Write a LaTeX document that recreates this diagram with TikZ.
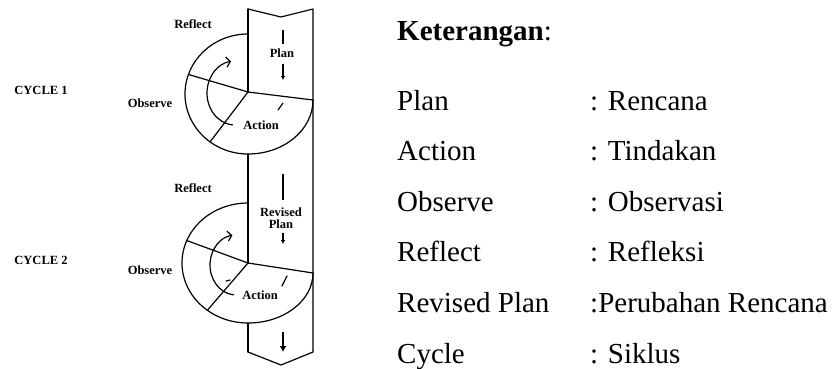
\documentclass[tikz,border=0pt]{standalone}
\usepackage{fontspec}
\setmainfont{Liberation Serif}
\usetikzlibrary{arrows.meta,calc}
\begin{document}
\begin{tikzpicture}[x=1bp,y=-1bp,line join=round,line cap=round,
  edge/.style={line width=1.2bp},
  heavy/.style={line width=2.2bp,line cap=butt},
  cyc/.style={line width=1.2bp,-{Straight Barb[length=4bp,width=10bp]}},
  small/.style={line width=1.3bp,line cap=butt,-{Latex[length=4bp,width=4.5bp]}},
  lbl/.style={font=\fontsize{12.5bp}{12.5bp}\selectfont\bfseries,inner sep=0pt},
  legend/.style={font=\fontsize{29bp}{32bp}\selectfont,inner sep=0pt,anchor=base west}]
\useasboundingbox (0,0) rectangle (833,368);

% ---- the vertical band with notched top and pointed bottom ----
\coordinate (tl) at (248,9);
\coordinate (tn) at (281,17);
\coordinate (tr) at (313,9);
\coordinate (bl) at (248,352);
\coordinate (bt) at (281,365);
\coordinate (br) at (313,352);
\draw[edge] (tl) -- (tn) -- (tr) -- (br) -- (bt) -- (bl);

% ---- cycle 1 ----
\coordinate (c1) at (248,94);
\coordinate (j1) at (248,92);
\coordinate (c1top) at (248,34);
\coordinate (c1bot) at (248,154);
\coordinate (c1r) at (313,100);
\draw[edge] (c1top) arc[start angle=270,end angle=90,x radius=63,y radius=60]
                    arc[start angle=90,end angle=0,x radius=65,y radius=54];
\draw[edge] (tl) -- (j1);
\draw[edge] (j1) -- ($(c1)+(199:63 and 60)$);
\draw[edge] (j1) -- ($(c1)+(127:63 and 60)$);
\draw[edge] (j1) -- (c1r);
\coordinate (a1) at (235,93);
\draw[cyc] ($(a1)+(95:28 and 32)$) arc[start angle=95,end angle=262,x radius=28,y radius=32];
\draw[edge] (278,110) -- (283,103);

\draw[heavy] (283,30) -- (283,44);
\node[lbl] (plan1) at (282,53) {Plan};
\coordinate (p1s) at (283,64);
\coordinate (p1e) at (283,80);
\draw[small] (p1s) -- (p1e);
\node[lbl] (refl1) at (193,24) {Reflect};
\node[lbl] (obs1) at (150,103) {Observe};
\node[lbl] (act1) at (261,125) {Action};
\node[lbl] (cyc1) at (41,90) {CYCLE 1};

% ---- cycle 2 ----
\coordinate (c2) at (248,263);
\coordinate (j2) at (248,263);
\coordinate (c2top) at (248,203);
\coordinate (c2bot) at (248,323);
\coordinate (c2r) at (313,273);
\draw[edge] (c2top) arc[start angle=270,end angle=90,x radius=66,y radius=60]
                    arc[start angle=90,end angle=0,x radius=65,y radius=50];
\draw[edge] (c1bot) -- (j2);
\draw[edge] (c2bot) -- (bl);
\draw[edge] (j2) -- ($(c2)+(202:66 and 60)$);
\draw[edge] (j2) -- ($(c2)+(128:66 and 60)$);
\draw[edge] (j2) -- (c2r);
\coordinate (a2) at (236,265);
\draw[cyc] ($(a2)+(95:26 and 30)$) arc[start angle=95,end angle=262,x radius=26,y radius=30];
\draw[edge] (282,286) -- (287,276);
\draw[edge] (226,281) -- (230,280);

\draw[heavy] (283,174) -- (283,200);
\node[lbl,align=center] (plan2) at (281,218) {Revised\\Plan};
\coordinate (p2s) at (283,233);
\coordinate (p2e) at (283,244);
\draw[small] (p2s) -- (p2e);
\coordinate (p3s) at (283,332);
\coordinate (p3e) at (283,352);
\draw[heavy,-{Latex[length=6bp,width=7bp]}] (p3s) -- (p3e);
\node[lbl] (refl2) at (193,188) {Reflect};
\node[lbl] (obs2) at (150,270) {Observe};
\node[lbl] (act2) at (260,295) {Action};
\node[lbl] (cyc2) at (41,260) {CYCLE 2};

% ---- legend ----
\node[legend] (kt) at (397,40) {\textbf{Keterangan}:};
\node[legend] (k1) at (397,110) {Plan};
\node[legend] (v1) at (590,110) {: Rencana};
\node[legend] (k2) at (397,160.6) {Action};
\node[legend] (v2) at (590,160.6) {: Tindakan};
\node[legend] (k3) at (397,211.2) {Observe};
\node[legend] (v3) at (590,211.2) {: Observasi};
\node[legend] (k4) at (397,261.8) {Reflect};
\node[legend] (v4) at (590,261.8) {: Refleksi};
\node[legend] (k5) at (397,312.4) {Revised Plan};
\node[legend] (v5) at (590,312.4) {:Perubahan Rencana};
\node[legend] (k6) at (397,363) {Cycle};
\node[legend] (v6) at (590,363) {: Siklus};
\end{tikzpicture}
\end{document}
